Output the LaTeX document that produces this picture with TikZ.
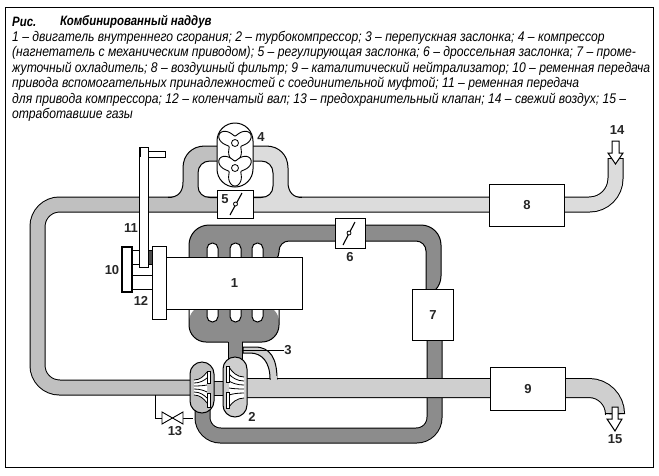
\documentclass[tikz,border=0pt]{standalone}
\usepackage{fontspec}
\setmainfont{Liberation Sans}
\newfontfamily\capfont[FakeStretch=.867]{Liberation Sans}
\newfontfamily\titlefont[FakeStretch=.84]{Liberation Sans}
\definecolor{airL}{HTML}{C0C0C0}
\definecolor{airR}{HTML}{DCDCDC}
\definecolor{hot}{HTML}{8C8C8C}
\definecolor{gasL}{HTML}{CFCFCF}
\tikzset{
  x=1pt,y=-1pt,
  captxt/.style={anchor=west,inner sep=0,font=\capfont\itshape\fontsize{14}{15}\selectfont},
  captitle/.style={captxt,font=\titlefont\itshape\bfseries\fontsize{13.6}{15}\selectfont},
  num/.style={inner sep=0,font=\bfseries\fontsize{13}{13}\selectfont,text=black!85},
  unit/.style={draw=black,line width=1pt,fill=white,inner sep=0,anchor=north west,font=\bfseries\fontsize{13}{13}\selectfont,text=black!85},
  pipe/.style={line width=1pt,draw=black,double distance=14pt,rounded corners=#1},
  pipe/.default=18pt,
  lid/.style={draw=black,line width=1pt},
  blade/.style={draw=black,line width=.8pt},
  flap/.style={draw=black,line width=1.1pt},
  hub/.style={draw=black,fill=white,line width=.8pt},
  solidpart/.style={draw=black,line width=1pt,fill=white},
}
\newcommand{\trefoil}[2]{%
  \draw[solidpart,line width=.9pt] plot[smooth cycle,domain=0:355,samples=72,variable=\t]
    ({#1+(12.5+5.5*cos(3*(\t-30)))*cos(\t)},{#2-(12.5+5.5*cos(3*(\t-30)))*sin(\t)});
  \draw[hub] (#1,#2) circle[radius=3.5];}
\begin{document}
\begin{tikzpicture}
\useasboundingbox (0,0) rectangle (659,475);
\fill[white] (0,0) rectangle (659,475);
\draw[line width=1pt] (5,7) -- (653,7) -- (653,467) -- (5,467) -- cycle;
% caption
\node[captitle] (t0) at (12,22) {Рис.};
\node[captitle] (t00) at (60,22) {Комбинированный наддув};
\node[captxt] (t1) at (12,37.5) {1 – двигатель внутреннего сгорания; 2 – турбокомпрессор; 3 – перепускная заслонка; 4 – компрессор};
\node[captxt] (t2) at (12,53) {(нагнетатель с механическим приводом); 5 – регулирующая заслонка; 6 – дроссельная заслонка; 7 – проме-};
\node[captxt] (t3) at (12,68.5) {жуточный охладитель; 8 – воздушный фильтр; 9 – каталитический нейтрализатор; 10 – ременная передача};
\node[captxt] (t4) at (12,84) {привода вспомогательных принадлежностей с соединительной муфтой; 11 – ременная передача};
\node[captxt] (t5) at (12,99.5) {для привода компрессора; 12 – коленчатый вал; 13 – предохранительный клапан; 14 – свежий воздух; 15 –};
\node[captxt] (t6) at (12,115) {отработавшие газы};
% intake pipes
\draw[pipe=22pt,double=airL] (217,204.5) -- (37.5,204.5) -- (37.5,387.5) -- (195,387.5);
\draw[pipe=26pt,double=airR] (253,204.5) -- (615.5,204.5) -- (615.5,158);
\draw[lid] (608,158) -- (623,158);
% bypass around blower
\fill[airL] (168,205) -- (168,197.5) .. controls (178,197.5) and (183,192) .. (183,182) -- (183,168) .. controls (183,155) and (192,146) .. (205,146) -- (217,146) -- (217,161) -- (210,161) .. controls (203,161) and (198,166) .. (198,173) -- (198,186) .. controls (198,193) and (203,197.5) .. (210,197.5) -- (217,197.5) -- (217,205) -- cycle;
\draw[lid] (168,197.5) .. controls (178,197.5) and (183,192) .. (183,182) -- (183,168) .. controls (183,155) and (192,146) .. (205,146) -- (217,146);
\draw[lid] (217,161) -- (210,161) .. controls (203,161) and (198,166) .. (198,173) -- (198,186) .. controls (198,193) and (203,197.5) .. (210,197.5) -- (217,197.5);
\fill[airR] (302,205) -- (302,197.5) .. controls (293,197.5) and (288,192) .. (288,182) -- (288,168) .. controls (288,155) and (279,146) .. (266,146) -- (253,146) -- (253,161) -- (261,161) .. controls (268,161) and (273,166) .. (273,173) -- (273,186) .. controls (273,193) and (268,197.5) .. (261,197.5) -- (253,197.5) -- (253,205) -- cycle;
\draw[lid] (302,197.5) .. controls (293,197.5) and (288,192) .. (288,182) -- (288,168) .. controls (288,155) and (279,146) .. (266,146) -- (253,146);
\draw[lid] (253,161) -- (261,161) .. controls (268,161) and (273,166) .. (273,173) -- (273,186) .. controls (273,193) and (268,197.5) .. (261,197.5) -- (253,197.5);
% blower 4
\draw[solidpart] (217,141) arc[start angle=180,end angle=360,radius=18] -- (253,169) arc[start angle=0,end angle=180,radius=18] -- cycle;
\trefoil{235}{143}
\trefoil{235}{168}
% charge air manifold
\draw[lid,fill=hot] (189,262) [rounded corners=20pt] -- (189,225) -- (441,225) -- (441,296) [sharp corners] -- (426,296) [rounded corners=10pt] -- (426,241) -- (279,241) -- (279,262) [sharp corners] -- cycle;
\foreach \sx in {207,230,252}
  \draw[lid,fill=white,rounded corners=5.4pt] (\sx,262) -- (\sx,243) -- (\sx+11,243) -- (\sx+11,262);
% exhaust manifold
\fill[hot,rounded corners=17pt] (189,305) -- (189,342) -- (279,342) -- (279,305) -- cycle;
\draw[lid,rounded corners=17pt] (189,305) -- (189,342) -- (228,342);
\draw[lid,rounded corners=17pt] (242,342) -- (279,342) -- (279,305);
\fill[hot] (228.5,335) rectangle (241.5,362);
\draw[lid] (228,342) -- (228,362);
\draw[lid] (242,342) -- (242,362);
\foreach \sx in {207,230,252}
  \draw[lid,fill=white,rounded corners=5.4pt] (\sx,305) -- (\sx,322) -- (\sx+11,322) -- (\sx+11,305);
% exhaust side
\draw[pipe=18pt,double=hot] (202.5,405) -- (202.5,435.5) -- (434.5,435.5) -- (434.5,335);
\draw[line width=1pt,draw=black,double=gasL,double distance=18pt,rounded corners=26pt] (240,388) -- (615,388) -- (615,413);
\draw[lid] (605,413) -- (625,413);
% wastegate 3
\draw[lid,fill=gasL] (243,347) -- (255,347) .. controls (270,347) and (277,358) .. (277,379) -- (270,379) .. controls (270,362) and (262,353) .. (250,353) -- (243,353) -- cycle;
\fill[gasL] (270.5,376) rectangle (276.5,380);
\draw[line width=.8pt] (243,350) -- (258,350);
\coordinate (gate) at (246,350);
% turbocharger
\draw[lid,fill=airL] (212,381) rectangle (225,395);
\draw[lid,fill=airL] (190,374) arc[start angle=180,end angle=360,radius=12] -- (214,401) arc[start angle=0,end angle=180,radius=12] -- cycle;
\draw[lid,fill=gasL] (223,369) arc[start angle=180,end angle=360,radius=12] -- (247,405) arc[start angle=0,end angle=180,radius=12] -- cycle;
% impellers
\fill[white] (194,380) .. controls (201,379) and (204,376) .. (207,372) -- (207,403) .. controls (204,399) and (201,396) .. (194,395) -- cycle;
\foreach \a/\b in {380/372,383/378,386/385,389/392,392/398,395/403}
  \draw[blade] (194,\a) .. controls (200,\a) and (204,{(\a+\b)/2}) .. (207,\b);
\draw[lid,fill=white,line width=.8pt] (207,371) rectangle (210,383);
\draw[lid,fill=white,line width=.8pt] (207,393) rectangle (210,407);
\fill[white] (244,377) .. controls (236,376) and (232,373) .. (229,367) -- (229,407) .. controls (232,402) and (236,399) .. (244,398) -- cycle;
\foreach \a/\b in {377/367,381/374,385/381,389/388,393/395,398/407}
  \draw[blade] (244,\a) .. controls (237,\a) and (232,{(\a+\b)/2}) .. (229,\b);
\draw[lid,fill=white,line width=.8pt] (226,366) rectangle (229,382);
\draw[lid,fill=white,line width=.8pt] (226,392) rectangle (229,408);
% relief valve 13
\draw[line width=.8pt] (155,395) -- (155,418) -- (162,418);
\draw[line width=.8pt] (183,418) -- (193,418);
\draw[line width=.9pt,fill=white] (162,412) -- (183,424) -- (183,412) -- (162,424) -- cycle;
\node[num] (n13) at (175,431) {13};
% belt drive
\draw[solidpart] (148,151) rectangle (165,157);
\draw[solidpart] (132,250) rectangle (152,264);
\draw[solidpart] (132,264) rectangle (152,275);
\draw[solidpart] (132,275) rectangle (152,289);
\draw[solidpart,line width=1.4pt] (122,247) rectangle (132,292);
\draw[lid,fill=black!70] (148,250) rectangle (152,264);
\draw[solidpart] (139.5,147) rectangle (148,267);
\draw[line width=2pt] (140,147) -- (140,157);
% boxes
\node[unit,minimum width=36pt,minimum height=28pt] (b5) at (217,190) {};
\draw[flap] (230,215) -- (242,193);
\draw[hub] (235.5,204) circle[radius=2];
\node[unit,minimum width=136pt,minimum height=52pt] (b1) at (166,257) {1};
\node[unit,minimum width=14pt,minimum height=73pt] (b12) at (152,246) {};
\node[unit,minimum width=30pt,minimum height=30pt] (b6) at (335,218) {};
\draw[flap] (343,245) -- (355,222);
\draw[hub] (349,233) circle[radius=2];
\node[unit,minimum width=41pt,minimum height=51pt] (b7) at (412,289) {7};
\node[unit,minimum width=75pt,minimum height=42pt] (b8) at (489,184) {8};
\node[unit,minimum width=75pt,minimum height=43pt] (b9) at (490,367) {9};
% arrows
\draw[solidpart] (612,141) -- (619,141) -- (619,153) -- (623,153) -- (615.5,164) -- (608,153) -- (612,153) -- cycle;
\draw[solidpart] (612,407) -- (618,407) -- (618,419) -- (622,419) -- (615,431) -- (607,419) -- (612,419) -- cycle;
% labels
\node[num] (n5) at (225,199) {5};
\node[num] (n2) at (252,417) {2};
\node[num] (n3) at (288,350) {3};
\draw[line width=.9pt] (gate) -- (n3.west);
\node[num] (n4) at (261,137) {4};
\node[num] (n6) at (350,257) {6};
\node[num] (n10) at (112,270) {10};
\node[num] (n11) at (131,228) {11};
\node[num] (n12) at (141,301) {12};
\node[num] (n14) at (617,130) {14};
\node[num] (n15) at (615,439) {15};
\end{tikzpicture}
\end{document}
